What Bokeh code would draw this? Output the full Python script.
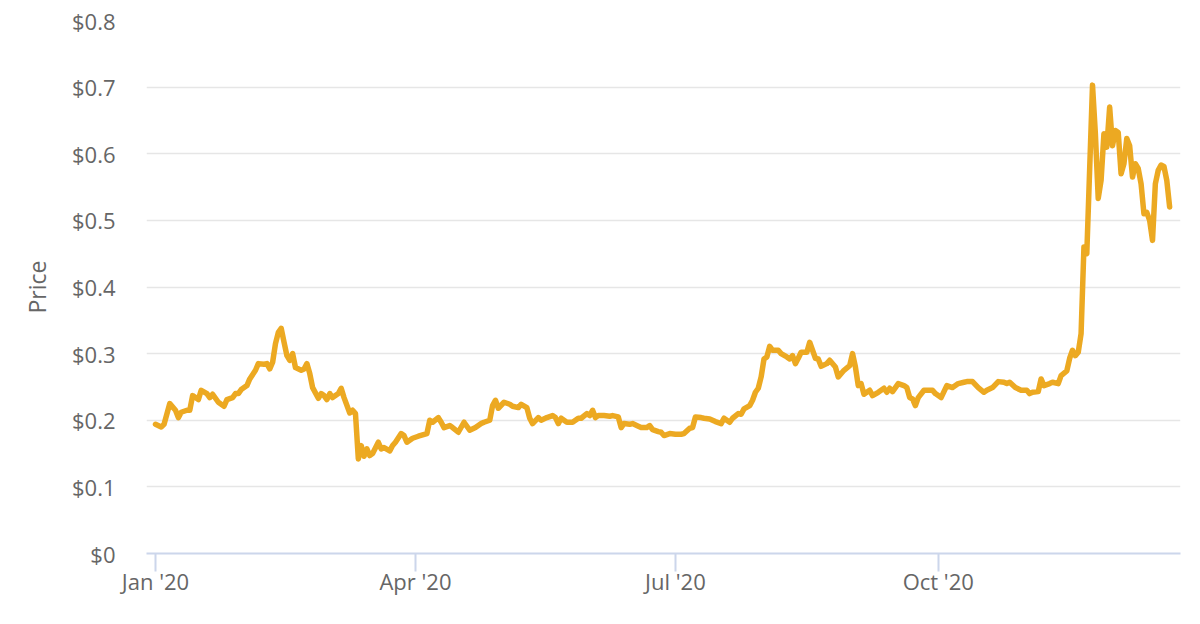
import pandas as pd
from bokeh.plotting import figure
from bokeh.models import FixedTicker, CustomJSTickFormatter, Range1d, ColumnDataSource
from bokeh.embed import file_html
from bokeh.resources import INLINE

# ---- data ----
dates = [
    "2020-01-01", "2020-01-03", "2020-01-04", "2020-01-06", "2020-01-08", "2020-01-09", "2020-01-10",
    "2020-01-12", "2020-01-13", "2020-01-14", "2020-01-16", "2020-01-17", "2020-01-19", "2020-01-20",
    "2020-01-21", "2020-01-23", "2020-01-25", "2020-01-26", "2020-01-28", "2020-01-29", "2020-01-30",
    "2020-01-31", "2020-02-02", "2020-02-03", "2020-02-05", "2020-02-06", "2020-02-08", "2020-02-09",
    "2020-02-10", "2020-02-11", "2020-02-12", "2020-02-13", "2020-02-14", "2020-02-15", "2020-02-16",
    "2020-02-17", "2020-02-18", "2020-02-19", "2020-02-21", "2020-02-22", "2020-02-23", "2020-02-24",
    "2020-02-25", "2020-02-27", "2020-02-28", "2020-02-29", "2020-03-01", "2020-03-02", "2020-03-03",
    "2020-03-05", "2020-03-06", "2020-03-07", "2020-03-09", "2020-03-10", "2020-03-11", "2020-03-12",
    "2020-03-13", "2020-03-14", "2020-03-15", "2020-03-16", "2020-03-17", "2020-03-19", "2020-03-20",
    "2020-03-21", "2020-03-23", "2020-03-24", "2020-03-25", "2020-03-27", "2020-03-28", "2020-03-29",
    "2020-03-31", "2020-04-02", "2020-04-05", "2020-04-06", "2020-04-07", "2020-04-09", "2020-04-10",
    "2020-04-11", "2020-04-13", "2020-04-14", "2020-04-16", "2020-04-18", "2020-04-20", "2020-04-22",
    "2020-04-24", "2020-04-25", "2020-04-27", "2020-04-28", "2020-04-29", "2020-04-30", "2020-05-02",
    "2020-05-04", "2020-05-05", "2020-05-07", "2020-05-08", "2020-05-10", "2020-05-11", "2020-05-12",
    "2020-05-14", "2020-05-15", "2020-05-17", "2020-05-19", "2020-05-20", "2020-05-21", "2020-05-22",
    "2020-05-24", "2020-05-26", "2020-05-28", "2020-05-29", "2020-05-31", "2020-06-01", "2020-06-02",
    "2020-06-03", "2020-06-04", "2020-06-06", "2020-06-08", "2020-06-09", "2020-06-11", "2020-06-12",
    "2020-06-13", "2020-06-15", "2020-06-16", "2020-06-18", "2020-06-19", "2020-06-21", "2020-06-22",
    "2020-06-23", "2020-06-25", "2020-06-26", "2020-06-27", "2020-06-29", "2020-07-01", "2020-07-03",
    "2020-07-04", "2020-07-06", "2020-07-07", "2020-07-08", "2020-07-10", "2020-07-11", "2020-07-13",
    "2020-07-15", "2020-07-17", "2020-07-18", "2020-07-20", "2020-07-21", "2020-07-23", "2020-07-24",
    "2020-07-25", "2020-07-27", "2020-07-28", "2020-07-29", "2020-07-30", "2020-07-31", "2020-08-01",
    "2020-08-02", "2020-08-03", "2020-08-04", "2020-08-06", "2020-08-07", "2020-08-09", "2020-08-10",
    "2020-08-11", "2020-08-12", "2020-08-13", "2020-08-14", "2020-08-16", "2020-08-17", "2020-08-18",
    "2020-08-19", "2020-08-20", "2020-08-21", "2020-08-23", "2020-08-24", "2020-08-26", "2020-08-27",
    "2020-08-29", "2020-08-31", "2020-09-01", "2020-09-02", "2020-09-03", "2020-09-04", "2020-09-05",
    "2020-09-07", "2020-09-08", "2020-09-10", "2020-09-12", "2020-09-13", "2020-09-14", "2020-09-15",
    "2020-09-17", "2020-09-19", "2020-09-20", "2020-09-21", "2020-09-22", "2020-09-23", "2020-09-24",
    "2020-09-26", "2020-09-27", "2020-09-29", "2020-09-30", "2020-10-02", "2020-10-04", "2020-10-06",
    "2020-10-08", "2020-10-10", "2020-10-11", "2020-10-13", "2020-10-15", "2020-10-17", "2020-10-18",
    "2020-10-20", "2020-10-22", "2020-10-24", "2020-10-25", "2020-10-26", "2020-10-28", "2020-10-30",
    "2020-11-01", "2020-11-02", "2020-11-03", "2020-11-05", "2020-11-06", "2020-11-07", "2020-11-09",
    "2020-11-10", "2020-11-12", "2020-11-13", "2020-11-15", "2020-11-16", "2020-11-17", "2020-11-18",
    "2020-11-19", "2020-11-20", "2020-11-21", "2020-11-22", "2020-11-24", "2020-11-25", "2020-11-26",
    "2020-11-27", "2020-11-28", "2020-11-29", "2020-11-30", "2020-12-01", "2020-12-02", "2020-12-03",
    "2020-12-04", "2020-12-05", "2020-12-06", "2020-12-07", "2020-12-08", "2020-12-09", "2020-12-10",
    "2020-12-11", "2020-12-12", "2020-12-13", "2020-12-14", "2020-12-15", "2020-12-16", "2020-12-17",
    "2020-12-18", "2020-12-19", "2020-12-20", "2020-12-21",
]

prices = [
    0.194, 0.190, 0.194, 0.225, 0.215, 0.204, 0.212,
    0.215, 0.215, 0.237, 0.231, 0.245, 0.240, 0.234,
    0.239, 0.227, 0.221, 0.231, 0.234, 0.240, 0.240,
    0.246, 0.252, 0.262, 0.275, 0.285, 0.284, 0.285,
    0.277, 0.287, 0.315, 0.332, 0.338, 0.317, 0.297,
    0.290, 0.300, 0.279, 0.275, 0.277, 0.285, 0.270,
    0.249, 0.233, 0.240, 0.237, 0.231, 0.240, 0.234,
    0.240, 0.248, 0.234, 0.211, 0.215, 0.210, 0.142,
    0.162, 0.146, 0.157, 0.147, 0.150, 0.167, 0.157,
    0.159, 0.154, 0.162, 0.167, 0.180, 0.177, 0.167,
    0.173, 0.176, 0.180, 0.200, 0.197, 0.204, 0.197,
    0.189, 0.192, 0.189, 0.182, 0.197, 0.185, 0.189,
    0.195, 0.197, 0.200, 0.222, 0.230, 0.218, 0.227,
    0.224, 0.221, 0.219, 0.224, 0.219, 0.203, 0.195,
    0.204, 0.200, 0.204, 0.207, 0.204, 0.195, 0.203,
    0.197, 0.197, 0.203, 0.203, 0.210, 0.207, 0.215,
    0.204, 0.207, 0.207, 0.206, 0.207, 0.205, 0.189,
    0.195, 0.194, 0.195, 0.191, 0.189, 0.189, 0.192,
    0.186, 0.183, 0.182, 0.177, 0.180, 0.179, 0.179,
    0.180, 0.188, 0.189, 0.205, 0.204, 0.203, 0.202,
    0.198, 0.195, 0.203, 0.197, 0.203, 0.210, 0.209,
    0.217, 0.222, 0.230, 0.242, 0.248, 0.265, 0.292,
    0.295, 0.311, 0.305, 0.305, 0.300, 0.295, 0.292,
    0.297, 0.285, 0.293, 0.302, 0.302, 0.317, 0.305,
    0.293, 0.292, 0.281, 0.285, 0.290, 0.280, 0.265,
    0.275, 0.282, 0.300, 0.280, 0.252, 0.255, 0.239,
    0.245, 0.237, 0.242, 0.248, 0.242, 0.248, 0.243,
    0.255, 0.252, 0.249, 0.234, 0.232, 0.222, 0.234,
    0.245, 0.245, 0.245, 0.240, 0.234, 0.252, 0.249,
    0.255, 0.257, 0.258, 0.258, 0.249, 0.242, 0.245,
    0.249, 0.258, 0.257, 0.255, 0.257, 0.249, 0.245,
    0.245, 0.240, 0.242, 0.243, 0.262, 0.252, 0.255,
    0.257, 0.255, 0.267, 0.274, 0.293, 0.305, 0.297,
    0.302, 0.330, 0.460, 0.450, 0.703, 0.630, 0.533,
    0.560, 0.630, 0.610, 0.670, 0.612, 0.635, 0.632,
    0.570, 0.585, 0.623, 0.612, 0.565, 0.585, 0.578,
    0.555, 0.510, 0.512, 0.500, 0.470, 0.555, 0.575,
    0.583, 0.581, 0.560, 0.520,
]

x_tick_dates = ["2020-01-01", "2020-04-01", "2020-07-01", "2020-10-01"]
x_tick_labels = ["Jan '20", "Apr '20", "Jul '20", "Oct '20"]
y_ticks = [0, 0.1, 0.2, 0.3, 0.4, 0.5, 0.6, 0.7, 0.8]
y_tick_labels = ["$0", "$0.1", "$0.2", "$0.3", "$0.4", "$0.5", "$0.6", "$0.7", "$0.8"]
y_title = "Price"

# ---- build ----
def ms(d):
    return pd.Timestamp(d).timestamp() * 1000.0

DAY = 86400000.0
x_start = ms("2020-01-01") - 3.15 * DAY
x_end = ms("2020-01-01") + 358.8 * DAY

source = ColumnDataSource(data=dict(x=pd.to_datetime(dates), y=prices))

p = figure(
    width=1192, height=616,
    x_axis_type="datetime",
    x_range=Range1d(x_start, x_end),
    y_range=Range1d(0, 0.8),
    output_backend="svg", toolbar_location=None,
    min_border_left=146, min_border_right=12, min_border_top=20, min_border_bottom=63,
)
p.outline_line_color = None
p.background_fill_color = "white"
p.border_fill_color = "white"

p.xgrid.visible = False
p.ygrid.grid_line_color = "#e6e6e6"
p.ygrid.grid_line_width = 1.6

TEXT = "#666666"
FONT = "Open Sans"

# x axis
xt = [ms(d) for d in x_tick_dates]
p.xaxis.ticker = FixedTicker(ticks=xt)
p.xaxis.formatter = CustomJSTickFormatter(args=dict(tvals=xt, tlabels=x_tick_labels), code="""
    for (let i = 0; i < tvals.length; i++) {
        if (Math.abs(tvals[i] - tick) < 1000) { return tlabels[i]; }
    }
    return "";
""")
p.xaxis.axis_line_color = "#ccd6eb"
p.xaxis.axis_line_width = 2
p.xaxis.major_tick_line_color = "#ccd6eb"
p.xaxis.major_tick_line_width = 2
p.xaxis.major_tick_out = 18
p.xaxis.major_tick_in = 0
p.xaxis.minor_tick_line_color = None
p.xaxis.major_label_text_font = FONT
p.xaxis.major_label_text_font_size = "22px"
p.xaxis.major_label_text_color = TEXT
p.xaxis.major_label_standoff = -6

# y axis
p.yaxis.ticker = FixedTicker(ticks=y_ticks)
p.yaxis.formatter = CustomJSTickFormatter(args=dict(tvals=y_ticks, tlabels=y_tick_labels), code="""
    for (let i = 0; i < tvals.length; i++) {
        if (Math.abs(tvals[i] - tick) < 1e-6) { return tlabels[i]; }
    }
    return "";
""")
p.yaxis.axis_line_color = None
p.yaxis.major_tick_line_color = None
p.yaxis.minor_tick_line_color = None
p.yaxis.major_label_text_font = FONT
p.yaxis.major_label_text_font_size = "22px"
p.yaxis.major_label_text_color = TEXT
p.yaxis.major_label_standoff = 25
p.yaxis.axis_label = y_title
p.yaxis.axis_label_text_font = FONT
p.yaxis.axis_label_text_font_size = "23px"
p.yaxis.axis_label_text_font_style = "normal"
p.yaxis.axis_label_text_color = TEXT
p.yaxis.axis_label_standoff = 16

p.line("x", "y", source=source, line_color="#ECA922", line_width=5.5,
       line_join="round", line_cap="round")

open("out.html", "w").write(file_html(p, INLINE))
